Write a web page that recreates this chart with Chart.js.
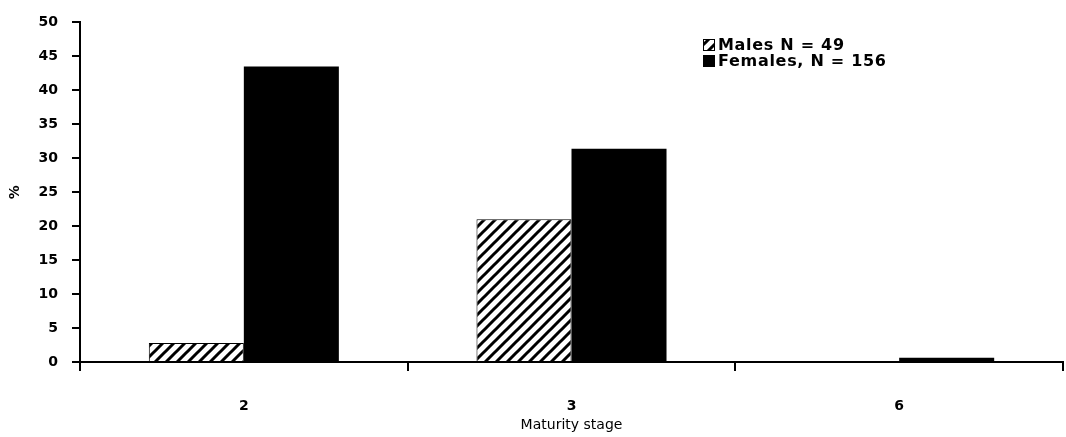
<!DOCTYPE html>
<html>
<head>
<meta charset="utf-8">
<script src="https://cdn.jsdelivr.net/npm/chart.js@4/dist/chart.umd.min.js"></script>
<style>
  html, body { margin: 0; padding: 0; background: #fff; }
  #wrap { width: 1066px; height: 437px; }
</style>
</head>
<body>
<div id="wrap"><canvas id="c" width="1066" height="437"></canvas></div>
<script>
// Maturity stages on the x axis
const categories = ['2', '3', '6'];
// Percentage of individuals in each stage
const malesPct = [2.8, 21.0, 0];
const femalesPct = [43.5, 31.4, 0.64];
const seriesLabels = ['Males N = 49', 'Females, N = 156'];
const yTicks = [0, 5, 10, 15, 20, 25, 30, 35, 40, 45, 50];

// Diagonal "/" hatch used for the male bars
function makeHatch() {
  const s = 11;
  const c = document.createElement('canvas');
  c.width = s; c.height = s;
  const g = c.getContext('2d');
  g.fillStyle = '#fff';
  g.fillRect(0, 0, s, s);
  g.strokeStyle = '#000';
  g.lineWidth = 3;
  g.beginPath();
  g.moveTo(-2, s + 2); g.lineTo(s + 2, -2);
  g.moveTo(-2, 2); g.lineTo(2, -2);
  g.moveTo(s - 2, s + 2); g.lineTo(s + 2, s - 2);
  g.stroke();
  return g.createPattern(c, 'repeat');
}
const ctx = document.getElementById('c').getContext('2d');
const hatch = makeHatch();

// Legend drawn inside the plot area, top right
const insideLegend = {
  id: 'insideLegend',
  afterDraw(chart) {
    const g = chart.ctx;
    const items = chart.data.datasets;
    const x0 = 703, rows = [45, 61];
    g.save();
    g.font = 'bold 16px "DejaVu Sans"';
    g.textBaseline = 'middle';
    g.textAlign = 'left';
    if ('letterSpacing' in g) g.letterSpacing = '0.7px';
    items.forEach((ds, i) => {
      const y = rows[i];
      g.fillStyle = ds.backgroundColor;
      g.fillRect(x0, y - 6, 12, 12);
      g.strokeStyle = '#000';
      g.lineWidth = 1;
      g.strokeRect(x0 + 0.5, y - 5.5, 11, 11);
      g.fillStyle = '#000';
      g.fillText(ds.label, x0 + 15, y + 1);
    });
    g.restore();
  }
};

new Chart(ctx, {
  type: 'bar',
  data: {
    labels: categories,
    datasets: [
      {
        label: seriesLabels[0],
        data: malesPct,
        backgroundColor: hatch,
        borderColor: '#000',
        borderWidth: 1,
        categoryPercentage: 0.58,
        barPercentage: 1.0
      },
      {
        label: seriesLabels[1],
        data: femalesPct,
        backgroundColor: '#000',
        borderWidth: 0,
        categoryPercentage: 0.58,
        barPercentage: 1.0
      }
    ]
  },
  options: {
    responsive: false,
    animation: false,
    devicePixelRatio: 1,
    layout: { padding: { top: 20, right: 3, left: 0, bottom: 0 } },
    plugins: {
      legend: { display: false },
      tooltip: { enabled: false }
    },
    scales: {
      x: {
        grid: {
          offset: true,
          drawOnChartArea: false,
          drawTicks: true,
          tickLength: 9,
          color: '#000',
          lineWidth: 2
        },
        border: { color: '#000', width: 2 },
        ticks: {
          color: '#000',
          padding: 27,
          font: { family: '"DejaVu Sans"', size: 14, weight: 'bold' }
        },
        title: {
          display: true,
          text: 'Maturity stage',
          color: '#000',
          font: { family: '"DejaVu Sans"', size: 14, weight: 'normal' },
          padding: { top: 0, bottom: 3 }
        },
        afterFit(scale) { scale.height = 75; }
      },
      y: {
        min: 0,
        max: 50,
        afterBuildTicks(scale) { scale.ticks = yTicks.map(v => ({ value: v })); },
        grid: {
          drawOnChartArea: false,
          drawTicks: true,
          tickLength: 8,
          color: '#000',
          lineWidth: 2
        },
        border: { color: '#000', width: 2 },
        ticks: {
          color: '#000',
          padding: 14,
          font: { family: '"DejaVu Sans"', size: 14, weight: 'bold' }
        },
        title: {
          display: true,
          text: '%',
          color: '#000',
          font: { family: '"DejaVu Sans"', size: 14, weight: 'bold' },
          padding: { top: 7, bottom: 0 }
        },
        afterFit(scale) { scale.width = 80; }
      }
    }
  },
  plugins: [insideLegend]
});
</script>
</body>
</html>
